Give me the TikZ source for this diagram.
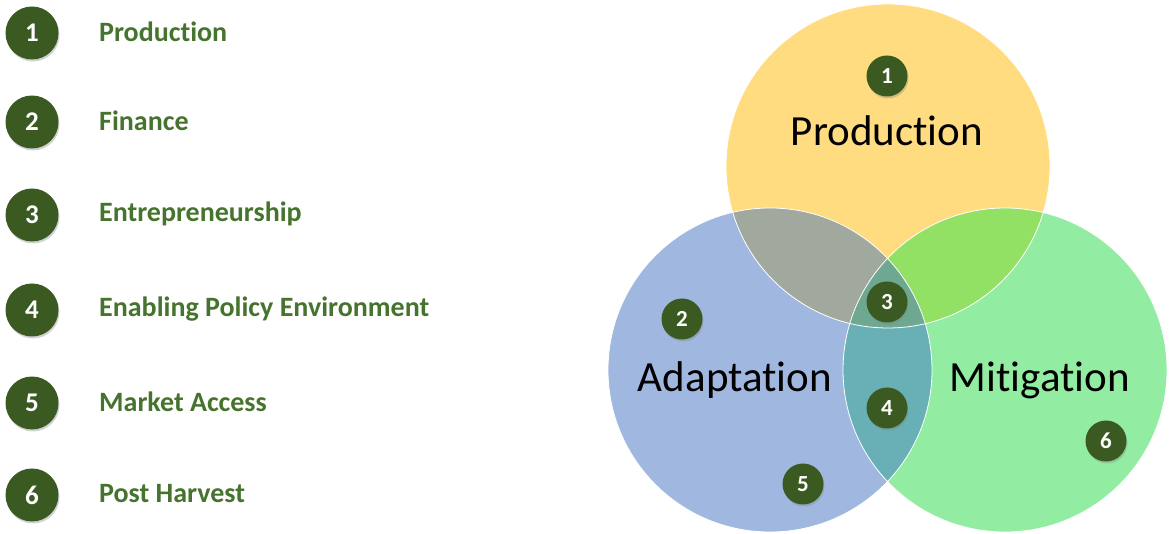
\documentclass[tikz,border=0pt]{standalone}
\usepackage{fontspec}
\setmainfont{Carlito}[Ligatures=CommonOff]
\usetikzlibrary{shadows}

\definecolor{dotgreen}{HTML}{3A5A22}
\definecolor{legendgreen}{HTML}{46732D}
\definecolor{prodfill}{HTML}{FFDC80}
\definecolor{adaptfill}{HTML}{A0B8E0}
\definecolor{mitfill}{HTML}{92EDA2}
\definecolor{prodadapt}{HTML}{A1A99E}
\definecolor{prodmit}{HTML}{92E064}
\definecolor{adaptmit}{HTML}{68B0B5}
\definecolor{allthree}{HTML}{6EA891}

\tikzset{
  numdot/.style={circle,fill=dotgreen,text=white,font=\bfseries\fontsize{23}{23}\selectfont,
    minimum size=41pt,inner sep=0pt,drop shadow={opacity=0.35,shadow xshift=1pt,shadow yshift=-2pt}},
  bigdot/.style={numdot,minimum size=53pt,font=\bfseries\fontsize{27}{27}\selectfont},
  legtext/.style={anchor=west,text=legendgreen,font=\bfseries\fontsize{28}{28}\selectfont,inner sep=0pt},
  setlabel/.style={font=\fontsize{43}{43}\selectfont,text=black,inner sep=0pt}
}

\begin{document}
\begin{tikzpicture}[x=1pt,y=-1pt]
\useasboundingbox[fill=white] (0,0) rectangle (1171,534);
% legend
\foreach \i/\y/\txt in {1/33/Production,2/122/Finance,3/215/Entrepreneurship,
    4/310/Enabling Policy Environment,5/403/Market Access,6/495/Post Harvest}{
  \node[bigdot] (l\i) at (32,\y) {\i};
  \node[legtext] (t\i) at (99,\y-1) {\txt};
}
% the three sets
\coordinate (P) at (888,166);
\coordinate (A) at (770,370);
\coordinate (M) at (1005,370);
\fill[prodfill] (P) circle[radius=162pt];
\fill[adaptfill] (A) circle[radius=162pt];
\fill[mitfill] (M) circle[radius=162pt];
\begin{scope} %P and A
  \clip (P) circle[radius=162pt];
  \fill[prodadapt] (A) circle[radius=162pt];
\end{scope}
\begin{scope} %P and M
  \clip (P) circle[radius=162pt];
  \fill[prodmit] (M) circle[radius=162pt];
\end{scope}
\begin{scope} %A and M
  \clip (A) circle[radius=162pt];
  \fill[adaptmit] (M) circle[radius=162pt];
\end{scope}
\begin{scope} %all three
  \clip (A) circle[radius=162pt];
  \clip (M) circle[radius=162pt];
  \fill[allthree] (P) circle[radius=162pt];
\end{scope}
\draw[white,line width=0.8pt] (P) circle[radius=162pt];
\draw[white,line width=0.8pt] (A) circle[radius=162pt];
\draw[white,line width=0.8pt] (M) circle[radius=162pt];
\node[setlabel] (prod) at (887,131) {Production};
\node[setlabel] (adapt) at (735,380) {Adaptation};
\node[setlabel] (mit) at (1040,380) {Mitigation};
\node[numdot] (n1) at (887,76) {1};
\node[numdot] (n2) at (682,319) {2};
\node[numdot] (n3) at (887,302) {3};
\node[numdot] (n4) at (887,408) {4};
\node[numdot] (n5) at (803,484) {5};
\node[numdot] (n6) at (1106,441) {6};
\end{tikzpicture}
\end{document}
